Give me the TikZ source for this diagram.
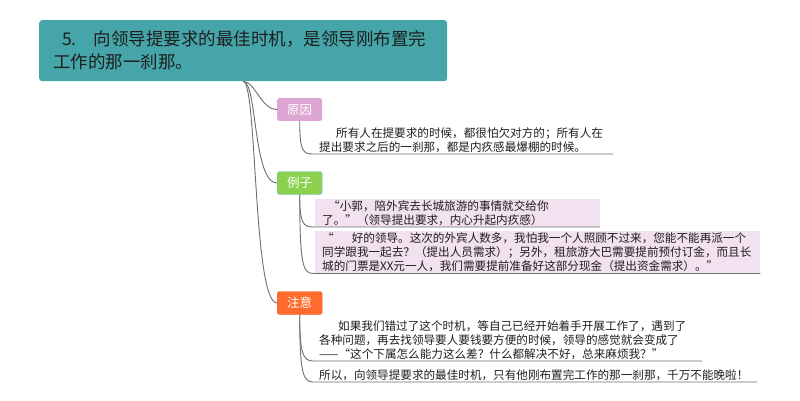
\documentclass[tikz,border=0pt]{standalone}
\usepackage{fontspec}
\setmainfont{Noto Sans CJK SC}
\usepackage{xcolor}
\usetikzlibrary{calc, positioning}

\definecolor{zhutiqing}{HTML}{45A5A8}
\definecolor{yuanyinfen}{HTML}{DDA6D2}
\definecolor{liziliu}{HTML}{8CD14E}
\definecolor{lizibian}{HTML}{72B8E8}
\definecolor{zhuyicheng}{HTML}{FF6B2C}
\definecolor{zhuyibian}{HTML}{E8622A}
\definecolor{kuangfen}{HTML}{F2E1EE}
\definecolor{xianhui}{HTML}{6E6E6E}
\definecolor{zishen}{HTML}{1E1E1E}

\begin{document}
\begin{tikzpicture}[x=1pt, y=-1pt,
    lianxian/.style={draw=xianhui, line width=0.9pt},
    zhuti/.style={fill=zhutiqing, rounded corners=3pt, align=left, text=zishen,
        inner xsep=14pt, font=\fontsize{17.5}{23}\selectfont},
    fenzhi/.style={rounded corners=2.5pt, minimum width=45pt, minimum height=23pt,
        inner sep=0pt, text=white, font=\fontsize{12.5}{14}\selectfont},
    neirong/.style={anchor=south west, align=left, inner xsep=6pt, inner ysep=1pt,
        text=zishen, font=\fontsize{11.6}{14}\selectfont},
    lizikuang/.style={neirong, fill=kuangfen, inner xsep=7pt, inner ysep=1.5pt}]
    \useasboundingbox (0,0) rectangle (800,401);

    % 1. 中心主题
    \node[zhuti, anchor=north west, text width=380pt, minimum height=61pt] (root) at (39,20)
        {\hspace*{9pt}5.\hspace{17pt}向领导提要求的最佳时机，是领导刚布置完\\工作的那一刹那。};

    % 2. 三个分支
    \node[fenzhi, fill=yuanyinfen, anchor=west] (yuanyin) at (277,109.5) {原因};
    \node[fenzhi, fill=liziliu, draw=lizibian, anchor=west] (lizi) at (277,183) {例子};
    \node[fenzhi, fill=zhuyicheng, draw=zhuyibian, anchor=west] (zhuyi) at (277,303) {注意};

    \draw[lianxian] (root.south) .. controls +(12,0) and +(-16,0) .. (yuanyin.west);
    \draw[lianxian] (root.south) .. controls +(14,0) and +(-24,0) .. (lizi.west);
    \draw[lianxian] (root.south) .. controls +(14,0) and +(-24,0) .. (zhuyi.west);

    % 3. 原因
    \node[neirong, text width=288pt] (yy-wen) at (313,154)
        {\hspace*{17pt}所有人在提要求的时候，都很怕欠对方的；所有人在\\提出要求之后的一刹那，都是内疚感最爆棚的时候。};
    \draw[lianxian] (yuanyin.south) .. controls +(0,30) and +(-10,0) .. (yy-wen.south west) -- (yy-wen.south east);

    % 4. 例子（两段对话）
    \node[lizikuang, text width=271pt] (lz-a) at (315,227)
        {\hspace*{6pt}“小郭，陪外宾去长城旅游的事情就交给你\\了。”（领导提出要求，内心升起内疚感）};
    \node[lizikuang, text width=431pt, below right=4pt and 0pt of lz-a.south west] (lz-b)
        {“\hspace{18pt}好的领导。这次的外宾人数多，我怕我一个人照顾不过来，您能不能再派一个\\同学跟我一起去？（提出人员需求）；另外，租旅游大巴需要提前预付订金，而且长\\城的门票是XX元一人，我们需要提前准备好这部分现金（提出资金需求）。”};
    \draw[lianxian] (lizi.south) .. controls +(0,28) and +(-10,0) .. ($(lz-a.south west)+(-2,0)$) -- (lz-a.south east);
    \draw[lianxian] (lizi.south) .. controls +(0,70) and +(-10,0) .. ($(lz-b.south west)+(-2,0)$) -- (lz-b.south east);

    % 5. 注意
    \node[neirong, text width=377pt] (zy-a) at (313,361)
        {\hspace*{19pt}如果我们错过了这个时机，等自己已经开始着手开展工作了，遇到了\\各种问题，再去找领导要人要钱要方便的时候，领导的感觉就会变成了\\——“这个下属怎么能力这么差？什么都解决不好，总来麻烦我？”};
    \node[neirong, text width=432pt] (zy-b) at (313,382)
        {所以，向领导提要求的最佳时机，只有他刚布置完工作的那一刹那，千万不能晚啦！};
    \draw[lianxian] (zhuyi.south) .. controls +(0,38) and +(-10,0) .. (zy-a.south west) -- (zy-a.south east);
    \draw[lianxian] (zhuyi.south) .. controls +(0,58) and +(-10,0) .. (zy-b.south west) -- (zy-b.south east);

\end{tikzpicture}
\end{document}
